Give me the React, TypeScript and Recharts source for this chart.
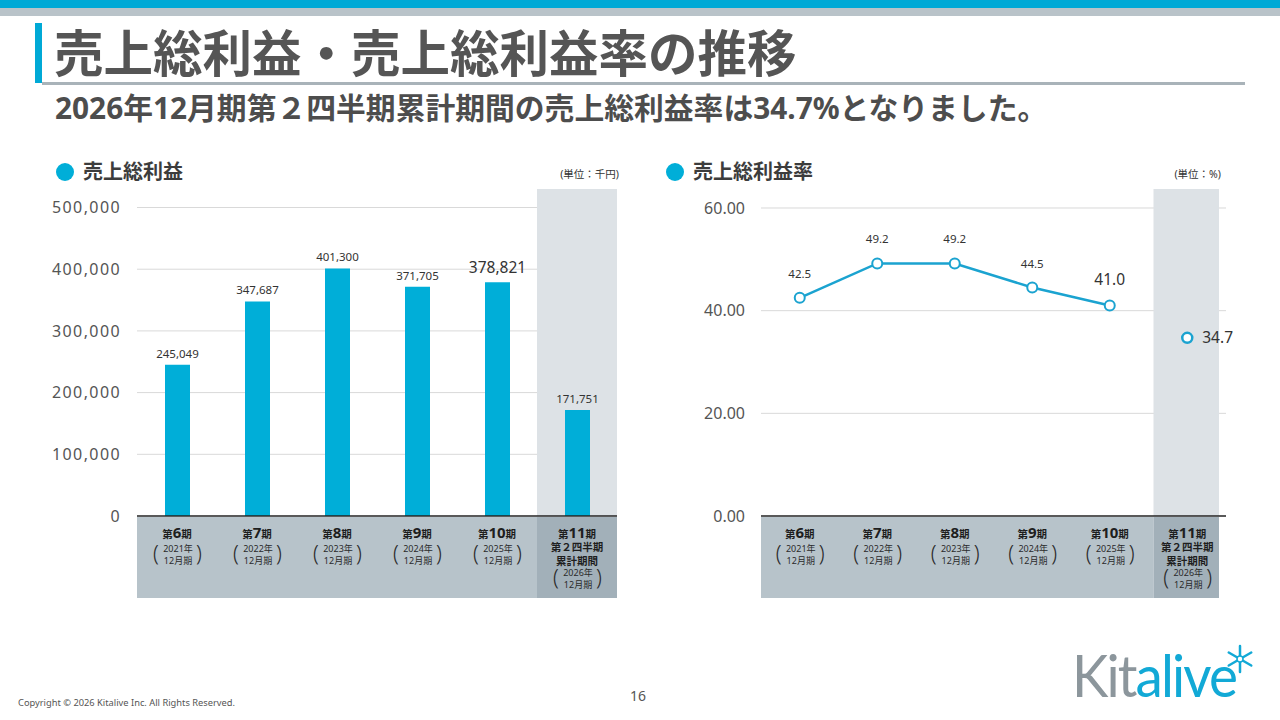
import React from 'react';
import {
  BarChart,
  Bar,
  LineChart,
  Line,
  XAxis,
  YAxis,
  CartesianGrid,
  ReferenceArea,
  LabelList,
} from 'recharts';

const periods = ['6', '7', '8', '9', '10', '11'];
const periodYears = ['2021年', '2022年', '2023年', '2024年', '2025年', '2026年'];
const grossProfit = [245049, 347687, 401300, 371705, 378821, 171751];
const grossMargin = [42.5, 49.2, 49.2, 44.5, 41.0, 34.7];
const profitTicks = [0, 100000, 200000, 300000, 400000, 500000];
const marginTicks = [0, 20, 40, 60];

const CYAN = '#00aed8';
const LINE = '#1ba3d0';
const BAND = '#dde2e6';
const FONT = "'Noto Sans', 'Noto Sans CJK JP', sans-serif";

const LAST = periods.length - 1;
const HIGHLIGHT = periods.length - 2;

const profitData = periods.map((p, i) => ({ key: `第${p}期`, value: grossProfit[i] }));
const marginData = periods.map((p, i) => ({
  key: `第${p}期`,
  fy: i < LAST ? grossMargin[i] : null,
  q2: i === LAST ? grossMargin[i] : null,
}));

const PeriodTick = ({ x, y, payload, bandW, lastInset }: any) => {
  const i = profitData.findIndex((d) => d.key === payload.value);
  const isLast = i === LAST;
  let left = x - bandW / 2;
  let w = bandW + 1;
  if (isLast) {
    left += lastInset[0];
    w = bandW - lastInset[0] - lastInset[1];
  } else if (i === LAST - 1) {
    w = bandW + lastInset[0];
  }
  const yearY = isLast ? 60 : 36;
  return (
    <g fontFamily={FONT}>
      <rect x={left} y={y + 1} width={w} height={81} fill={isLast ? '#a2b0b9' : '#b7c3ca'} />
      <text x={x} y={y + 22} textAnchor="middle" fontWeight={700} fill="#1e1e1e">
        <tspan fontSize={10.5}>第</tspan>
        <tspan fontSize={15}>{periods[i]}</tspan>
        <tspan fontSize={10.5}>期</tspan>
      </text>
      {isLast && (
        <>
          <text x={x} y={y + 35} textAnchor="middle" fontWeight={700} fontSize={10.5} fill="#1e1e1e">
            第２四半期
          </text>
          <text x={x} y={y + 49} textAnchor="middle" fontWeight={700} fontSize={10.5} fill="#1e1e1e">
            累計期間
          </text>
        </>
      )}
      <text x={x + 1} y={y + yearY} textAnchor="middle" fontSize={9} fill="#2a2a2a">
        {periodYears[i]}
      </text>
      <text x={x + 1} y={y + yearY + 12} textAnchor="middle" fontSize={9} fill="#2a2a2a">
        12月期
      </text>
      <text x={x - 21} y={y + yearY + 9} textAnchor="middle" fontSize={21} fontWeight={300} fill="#2a2a2a">
        (
      </text>
      <text x={x + 22} y={y + yearY + 9} textAnchor="middle" fontSize={21} fontWeight={300} fill="#2a2a2a">
        )
      </text>
    </g>
  );
};

const ProfitLabel = ({ x, y, width, value, index }: any) => {
  const big = index === HIGHLIGHT;
  return (
    <text
      x={x + width / 2}
      y={y - (big ? 9 : 7)}
      textAnchor="middle"
      fontSize={big ? 15.5 : 11.5}
      fill="#333"
      fontFamily={FONT}
    >
      {Number(value).toLocaleString('en-US')}
    </text>
  );
};

const MarginLabel = ({ x, y, value, index }: any) => {
  if (value == null) return null;
  const big = index === HIGHLIGHT;
  return (
    <text
      x={x}
      y={y - (big ? 21 : 20)}
      textAnchor="middle"
      fontSize={big ? 15.5 : 11.5}
      fill="#333"
      fontFamily={FONT}
    >
      {Number(value).toFixed(1)}
    </text>
  );
};

const QuarterLabel = ({ x, y, value }: any) => {
  if (value == null) return null;
  return (
    <text x={x + 15} y={y + 5.5} fontSize={15.5} fill="#333" fontFamily={FONT}>
      {Number(value).toFixed(1)}
    </text>
  );
};

const InsetArea = (inset: number[]) => (props: any) => (
  <rect
    x={props.x + inset[0]}
    y={props.y}
    width={props.width - inset[0] - inset[1]}
    height={props.height}
    fill={BAND}
  />
);

const SectionTitle = ({ left, text, unit, unitRight }: any) => (
  <>
    <div
      style={{
        position: 'absolute',
        left,
        top: 163,
        width: 18,
        height: 18,
        borderRadius: 9,
        background: CYAN,
      }}
    />
    <div
      style={{
        position: 'absolute',
        left: left + 27,
        top: 157,
        fontSize: 20,
        fontWeight: 700,
        color: '#3c3c3c',
        lineHeight: '30px',
      }}
    >
      {text}
    </div>
    <div
      style={{
        position: 'absolute',
        right: 1280 - unitRight,
        top: 166,
        fontSize: 10.5,
        color: '#333',
        lineHeight: '16px',
      }}
    >
      {unit}
    </div>
  </>
);

export default function App() {
  return (
    <div
      style={{
        position: 'absolute',
        left: 0,
        top: 0,
        width: 1280,
        height: 720,
        overflow: 'hidden',
        background: '#fff',
        fontFamily: FONT,
      }}
    >
      {/* header */}
      <div style={{ position: 'absolute', left: 0, top: 0, width: 1280, height: 8, background: '#00a9d6' }} />
      <div style={{ position: 'absolute', left: 0, top: 8, width: 1280, height: 8, background: '#b9c3c9' }} />
      <div style={{ position: 'absolute', left: 35, top: 23, width: 7, height: 60, background: '#00a9d6' }} />
      <div style={{ position: 'absolute', left: 42, top: 82, width: 1203, height: 3, background: '#a9b3b9' }} />
      <div
        style={{
          position: 'absolute',
          left: 54,
          top: 20,
          fontSize: 49.5,
          fontWeight: 700,
          color: '#555',
          lineHeight: '66px',
          whiteSpace: 'nowrap',
        }}
      >
        売上総利益・売上総利益率の推移
      </div>
      <div
        style={{
          position: 'absolute',
          left: 55,
          top: 88,
          fontSize: 29.8,
          fontWeight: 700,
          color: '#4d4d4d',
          lineHeight: '40px',
          whiteSpace: 'nowrap',
        }}
      >
        2026年12月期第２四半期累計期間の売上総利益率は34.7%となりました。
      </div>

      <SectionTitle left={56} text="売上総利益" unit="(単位：千円)" unitRight={619} />
      <SectionTitle left={666} text="売上総利益率" unit="(単位：%)" unitRight={1221} />

      {/* gross profit bars */}
      <div style={{ position: 'absolute', left: 40, top: 150 }}>
        <BarChart
          width={600}
          height={460}
          data={profitData}
          margin={{ top: 39, right: 23, bottom: 12, left: 0 }}
          barSize={25}
        >
          <ReferenceArea x1="第11期" x2="第11期" fill={BAND} fillOpacity={1} ifOverflow="extendDomain" />
          <CartesianGrid vertical={false} stroke="#d9d9d9" horizontalValues={profitTicks.slice(1)} />
          <XAxis
            dataKey="key"
            interval={0}
            height={82}
            tickSize={0}
            tickMargin={0}
            axisLine={{ stroke: '#222', strokeWidth: 1.5 }}
            tickLine={false}
            tick={<PeriodTick bandW={80} lastInset={[0, 0]} />}
          />
          <YAxis
            width={97}
            domain={[0, 530000]}
            ticks={profitTicks}
            axisLine={false}
            tickLine={false}
            tickMargin={10}
            tick={{ fontSize: 16, fill: '#555', letterSpacing: 1.4 }}
            tickFormatter={(v) => Number(v).toLocaleString('en-US')}
          />
          <Bar dataKey="value" fill={CYAN} isAnimationActive={false}>
            <LabelList dataKey="value" content={<ProfitLabel />} />
          </Bar>
        </BarChart>
      </div>

      {/* gross margin line */}
      <div style={{ position: 'absolute', left: 660, top: 150 }}>
        <LineChart
          width={580}
          height={460}
          data={marginData}
          margin={{ top: 39, right: 14, bottom: 12, left: 0 }}
        >
          <ReferenceArea x1="第11期" x2="第11期" shape={InsetArea([5, 7])} ifOverflow="extendDomain" />
          <CartesianGrid vertical={false} stroke="#d9d9d9" horizontalValues={marginTicks.slice(1)} />
          <XAxis
            dataKey="key"
            scale="band"
            interval={0}
            height={82}
            tickSize={0}
            tickMargin={0}
            axisLine={{ stroke: '#222', strokeWidth: 1.5 }}
            tickLine={false}
            tick={<PeriodTick bandW={77.5} lastInset={[5, 7]} />}
          />
          <YAxis
            width={101}
            domain={[0, 63.7]}
            ticks={marginTicks}
            axisLine={false}
            tickLine={false}
            tickMargin={10}
            tick={{ fontSize: 16, fill: '#555' }}
            tickFormatter={(v) => Number(v).toFixed(2)}
          />
          <Line
            dataKey="fy"
            stroke={LINE}
            strokeWidth={2.5}
            dot={{ r: 5, fill: '#fff', stroke: LINE, strokeWidth: 2 }}
            connectNulls={false}
            isAnimationActive={false}
          >
            <LabelList dataKey="fy" content={<MarginLabel />} />
          </Line>
          <Line
            dataKey="q2"
            stroke={LINE}
            strokeWidth={2.5}
            dot={{ r: 5, fill: '#fff', stroke: LINE, strokeWidth: 2.5 }}
            isAnimationActive={false}
          >
            <LabelList dataKey="q2" content={<QuarterLabel />} />
          </Line>
        </LineChart>
      </div>

      {/* footer */}
      <div style={{ position: 'absolute', left: 18, top: 697, fontSize: 9.3, color: '#555', lineHeight: '12px' }}>
        Copyright © 2026 Kitalive Inc. All Rights Reserved.
      </div>
      <div style={{ position: 'absolute', left: 630, top: 686, fontSize: 14, color: '#555', lineHeight: '20px' }}>
        16
      </div>
      <svg style={{ position: 'absolute', left: 1060, top: 635 }} width={210} height={75}>
        <text
          x={12}
          y={62}
          fontFamily="Lato, sans-serif"
          fontSize={58}
          textLength={164}
          lengthAdjust="spacingAndGlyphs"
          letterSpacing={-2}
        >
          <tspan fill="#8c969c">Kit</tspan>
          <tspan fill="#12a9d6">alive</tspan>
        </text>
        <g stroke="#12a9d6" strokeWidth={2.5} strokeLinecap="round">
          {[0, 60, 120].map((a) => {
            const r = (a * Math.PI) / 180;
            return (
              <line
                key={a}
                x1={180 + Math.sin(r) * 13}
                y1={24 - Math.cos(r) * 13}
                x2={180 - Math.sin(r) * 13}
                y2={24 + Math.cos(r) * 13}
              />
            );
          })}
        </g>
        <circle cx={180} cy={24} r={3} fill="#fff" stroke="#12a9d6" strokeWidth={1.5} />
      </svg>
    </div>
  );
}
